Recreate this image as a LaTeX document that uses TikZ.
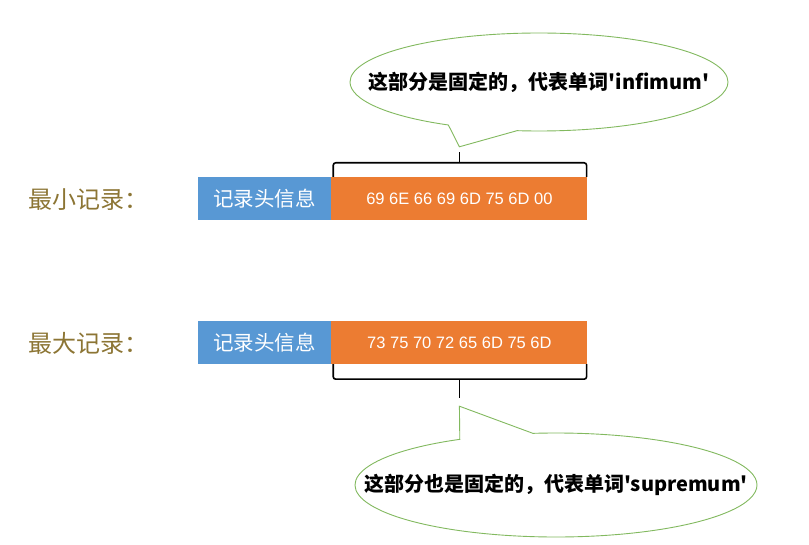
\documentclass[tikz,border=0pt]{standalone}
\usepackage{fontspec}
\setmainfont{Liberation Sans}
\newfontfamily\cjk{Noto Sans CJK SC}
\usetikzlibrary{positioning,shapes.callouts}
\definecolor{hdrblue}{RGB}{88,152,212}
\definecolor{datorange}{RGB}{236,124,50}
\definecolor{saygreen}{RGB}{130,185,95}
\definecolor{lblgold}{RGB}{140,117,52}
\newcommand{\saytext}[1]{\makebox[0pt][c]{#1}}

\begin{document}
\begin{tikzpicture}[x=1pt,y=-1pt,
  lbl/.style={anchor=west,text=lblgold,font=\cjk\fontsize{24}{24}\selectfont},
  hdr/.style={fill=hdrblue,minimum width=133pt,minimum height=43pt,inner sep=0pt,
    text=white,font=\cjk\fontsize{20.5}{20}\selectfont},
  dat/.style={fill=datorange,minimum width=256pt,minimum height=43pt,inner sep=0pt,
    text=white,font=\fontsize{16.5}{16}\selectfont},
  bracket/.style={line width=1.6pt,rounded corners=2.5pt},
  bubble/.style={ellipse callout,draw=saygreen,line width=0.9pt,fill=white,inner sep=0pt,
    callout pointer arc=22,font=\cjk\bfseries\fontsize{20}{20}\selectfont}]
\useasboundingbox (0,0) rectangle (809,545);
% minimum record
\node[lbl] (min) at (25,200) {最小记录：};
\node[hdr] (hdr1) at (264.5,198.5) {记录头信息};
\node[dat,right=0pt of hdr1] (dat1) {69 6E 66 69 6D 75 6D 00};
\draw[bracket] ([xshift=2pt]dat1.north west) |- ([yshift=14pt]dat1.north)
  -| ([xshift=-1pt]dat1.north east);
\draw[bracket] ([yshift=14pt]dat1.north) -- ([yshift=25pt]dat1.north);
\coordinate (p1) at ([yshift=30pt]dat1.north);
\node[bubble,minimum width=378pt,minimum height=98pt,callout absolute pointer=(p1)]
  (say1) at (539,82) {\saytext{这部分是固定的，代表单词'infimum'}};
% maximum record
\node[lbl] (max) at (25,343) {最大记录：};
\node[hdr] (hdr2) at (264.5,342.5) {记录头信息};
\node[dat,right=0pt of hdr2] (dat2) {73 75 70 72 65 6D 75 6D};
\draw[bracket] ([xshift=2pt]dat2.south west) |- ([yshift=-15pt]dat2.south)
  -| ([xshift=-1pt]dat2.south east);
\draw[bracket] ([yshift=-15pt]dat2.south) -- ([yshift=-34pt]dat2.south);
\coordinate (p2) at ([yshift=-42pt]dat2.south);
\node[bubble,minimum width=402pt,minimum height=104pt,callout absolute pointer=(p2)]
  (say2) at (556,485) {\saytext{这部分也是固定的，代表单词'supremum'}};
\end{tikzpicture}
\end{document}
